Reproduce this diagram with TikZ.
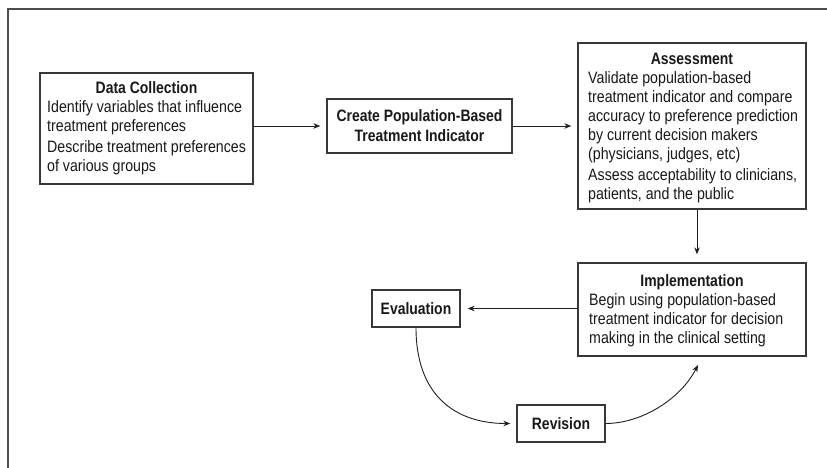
\documentclass[tikz,border=0pt]{standalone}
\usepackage{fontspec}
\setmainfont{Liberation Sans}[FakeStretch=0.86, BoldFeatures={FakeStretch=0.846}]
\usetikzlibrary{arrows.meta}
\definecolor{boxc}{gray}{0.22}
\definecolor{txt}{gray}{0.1}
\definecolor{arrc}{gray}{0.12}
\definecolor{framec}{gray}{0.3}
\begin{document}
\begin{tikzpicture}[x=1pt,y=-1pt,
  box/.style={draw=boxc, line width=1.3pt, inner sep=0pt, fill=white},
  ttl/.style={font=\fontsize{16.5}{19}\selectfont\bfseries, inner sep=0pt, anchor=base, text=txt},
  body/.style={font=\fontsize{16.5}{19}\selectfont, inner sep=0pt, anchor=north west, align=left, text=txt},
  bbox/.style={box, font=\fontsize{16.5}{20}\selectfont\bfseries, align=center, text=txt},
  arr/.style={-{Stealth[length=7pt,width=5.5pt]}, line width=0.9pt, draw=arrc, shorten >=6pt}]
\useasboundingbox (0,0) rectangle (827,468);
\draw[line width=1.6pt, draw=framec] (8,470) -- (8,9) -- (829,9);
% Data Collection
\node[box, minimum width=213pt, minimum height=111pt] (dc) at (146.5,128.5) {};
\node[ttl] (dct) at (146.5,94) {Data Collection};
\node[body] (dcb) at (47,100) {Identify variables that influence\\treatment preferences\\[2pt]Describe treatment preferences\\of various groups};
% Create
\node[bbox, minimum width=185pt, minimum height=54pt] (cr) at (419.5,126) {Create Population-Based\\Treatment Indicator};
% Assessment
\node[box, minimum width=228pt, minimum height=166pt] (as) at (692,126) {};
\node[ttl] (ast) at (692,65) {Assessment};
\node[body] (asb) at (588,71) {Validate population-based\\treatment indicator and compare\\accuracy to preference prediction\\by current decision makers\\(physicians, judges, etc)\\[2pt]Assess acceptability to clinicians,\\patients, and the public};
% Implementation
\node[box, minimum width=228pt, minimum height=93pt] (im) at (692,309.5) {};
\node[ttl] (imt) at (692,286) {Implementation};
\node[body] (imb) at (589,293) {Begin using population-based\\treatment indicator for decision\\making in the clinical setting};
% Evaluation, Revision
\node[bbox, minimum width=88pt, minimum height=37pt] (ev) at (416,308.5) {Evaluation};
\node[bbox, minimum width=88pt, minimum height=37pt] (rv) at (561,423.5) {Revision};
% connectors
\draw[arr] (cr.west -| dc.east) -- (cr.west);
\draw[arr] (cr.east) -- (cr.east -| as.west);
\draw[arr, shorten >=8pt] ([xshift=5pt]as.south) -- ([xshift=5pt]im.north);
\draw[arr, shorten >=7pt] (ev.east -| im.west) -- (ev.east);
\draw[arr] (ev.south) .. controls +(0,68) and +(-61,0) .. (rv.west);
\coordinate (imtip) at (698,365);
\draw[arr, shorten >=0pt] (rv.east) .. controls +(35,0) and +(-18,35) .. (imtip);
\end{tikzpicture}
\end{document}
